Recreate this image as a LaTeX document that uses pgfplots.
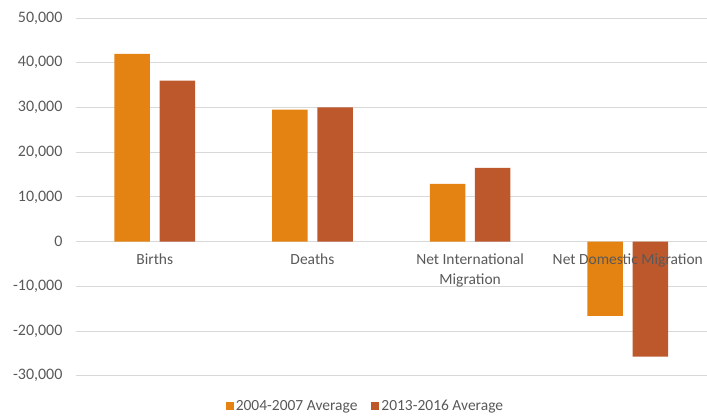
\documentclass[border=0pt]{standalone}
\usepackage{pgfplots}
\pgfplotsset{compat=1.18}
\usepackage{fontspec}
\setmainfont{Carlito}

\definecolor{barA}{HTML}{E48312}
\definecolor{barB}{HTML}{BD582C}
\definecolor{gridc}{HTML}{D9D9D9}
\definecolor{txt}{HTML}{595959}

\begin{document}
\begin{tikzpicture}[font=\fontsize{15.5}{19.5}\selectfont, text=txt]
\begin{axis}[
    scale only axis,
    width=631pt, height=358pt,
    ybar=9.7pt,
    bar width=35.5pt,
    xmin=-0.5, xmax=3.5,
    ymin=-30000, ymax=50000,
    ytick={-30000,-20000,...,50000},
    scaled y ticks=false,
    xtick={0,1,2,3},
    xticklabels={},
    yticklabel style={text=txt, xshift=-10pt, font=\fontsize{16}{19.5}\selectfont},
    /pgf/number format/.cd, fixed, 1000 sep={,}, assume math mode=true,
    /pgfplots/.cd,
    axis x line*=middle,
    axis y line*=left,
    x axis line style={draw=gridc, line width=0.8pt},
    y axis line style={draw=none},
    major tick length=0pt,
    ymajorgrids,
    grid style={gridc, line width=0.8pt},
    legend columns=2,
    legend style={draw=none, fill=none, at={(0.459,-0.084)}, anchor=center,
        /tikz/every even column/.append style={column sep=12pt},
        font=\fontsize{15.5}{19.5}\selectfont, text=txt},
    legend image code/.code={\fill[#1] (0pt,-4pt) rectangle (8pt,4pt);},
]
\addplot[fill=barA, draw=none] coordinates {(0,42000) (1,29500) (2,12900) (3,-16600)};
\addplot[fill=barB, draw=none] coordinates {(0,36000) (1,30000) (2,16500) (3,-25700)};
\legend{2004-2007 Average, 2013-2016 Average}
% category names sit under the zero line, over the bars
\begin{scope}[every node/.style={anchor=north, align=center, text=txt, inner sep=0pt, yshift=-12pt}]
\node at (axis cs:0,0) {Births};
\node at (axis cs:1,0) {Deaths};
\node at (axis cs:2,0) {Net International\\Migration};
\node at (axis cs:3,0) {Net Domestic Migration};
\end{scope}
\end{axis}
\path (current axis.south west) ++(-76pt,-39pt);
\path (current axis.north east) ++(0pt,18pt);
\end{tikzpicture}
\end{document}
